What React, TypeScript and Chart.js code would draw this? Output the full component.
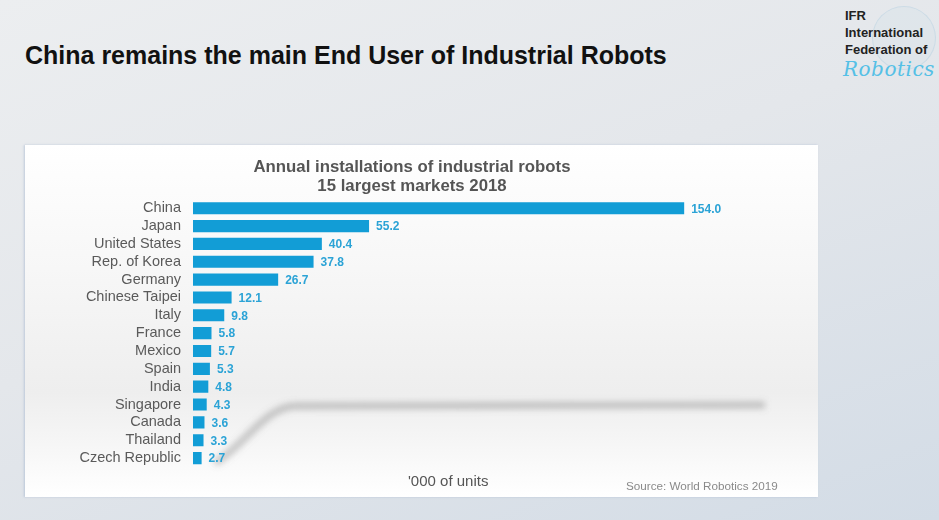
import React, { useEffect, useRef } from "react";
import { Chart, registerables } from "chart.js";

Chart.register(...registerables);

const countries = [
  "China",
  "Japan",
  "United States",
  "Rep. of Korea",
  "Germany",
  "Chinese Taipei",
  "Italy",
  "France",
  "Mexico",
  "Spain",
  "India",
  "Singapore",
  "Canada",
  "Thailand",
  "Czech Republic",
];
const installations = [154.0, 55.2, 40.4, 37.8, 26.7, 12.1, 9.8, 5.8, 5.7, 5.3, 4.8, 4.3, 3.6, 3.3, 2.7];
const chartTitleLines = ["Annual installations of industrial robots", "15 largest markets 2018"];
const slideTitle = "China remains the main End User of Industrial Robots";
const unitsNote = "'000 of units";
const sourceNote = "Source: World Robotics 2019";
const logoLines = ["IFR", "International", "Federation of"];
const logoScript = "Robotics";

const FONT = "'Liberation Sans', Arial, Helvetica, sans-serif";
const BAR_COLOR = "#129dd6";
const VALUE_COLOR = "#2ba3d6";

const valueLabels = {
  id: "valueLabels",
  afterDatasetsDraw(chart: any) {
    const ctx = chart.ctx;
    const meta = chart.getDatasetMeta(0);
    const data = chart.data.datasets[0].data as number[];
    ctx.save();
    ctx.font = `bold 12px ${FONT}`;
    ctx.fillStyle = VALUE_COLOR;
    ctx.textBaseline = "middle";
    ctx.textAlign = "left";
    meta.data.forEach((bar: any, i: number) => {
      ctx.fillText(Number(data[i]).toFixed(1), bar.x + 7, bar.y + 1);
    });
    ctx.restore();
  },
};

export default function App() {
  const canvasRef = useRef<HTMLCanvasElement | null>(null);

  useEffect(() => {
    if (!canvasRef.current) return;
    const chart = new Chart(canvasRef.current, {
      type: "bar",
      data: {
        labels: countries,
        datasets: [
          {
            data: installations,
            backgroundColor: BAR_COLOR,
            borderWidth: 0,
            barPercentage: 0.68,
            categoryPercentage: 1,
          },
        ],
      },
      options: {
        indexAxis: "y",
        responsive: false,
        animation: false,
        devicePixelRatio: 1,
        layout: { padding: { left: 0, right: 0, top: 0, bottom: 30 } },
        plugins: {
          legend: { display: false },
          tooltip: { enabled: false },
          title: {
            display: true,
            text: chartTitleLines,
            color: "#555555",
            font: { family: FONT, size: 16.8, weight: "bold", lineHeight: 1.14 },
            padding: { top: 13, bottom: 3 },
          },
        },
        scales: {
          x: {
            display: false,
            min: 0,
            max: 190,
          },
          y: {
            grid: { display: false, drawTicks: false },
            border: { display: false },
            ticks: {
              color: "#5a5a5a",
              font: { family: FONT, size: 14.5 },
              padding: 12,
              autoSkip: false,
            },
            afterFit: (scale: any) => {
              scale.width = 168;
            },
          },
        },
      },
      plugins: [valueLabels],
    } as any);
    return () => chart.destroy();
  }, []);

  return (
    <div
      style={{
        position: "absolute",
        left: 0,
        top: 0,
        width: 939,
        height: 520,
        overflow: "hidden",
        background: "linear-gradient(160deg, #eceef0 0%, #e4e7eb 45%, #d3dce6 100%)",
        fontFamily: FONT,
      }}
    >
      <div
        style={{
          position: "absolute",
          left: 25,
          top: 38,
          fontSize: 25,
          fontWeight: "bold",
          color: "#111",
          whiteSpace: "nowrap",
          lineHeight: "34px",
        }}
      >
        {slideTitle}
      </div>

      {/* logo */}
      <div
        style={{
          position: "absolute",
          left: 872,
          top: 6,
          width: 62,
          height: 62,
          borderRadius: "50%",
          border: "1px solid rgba(170,200,220,0.35)",
          background: "rgba(200,220,235,0.18)",
        }}
      />
      <div
        style={{
          position: "absolute",
          left: 845,
          top: 7,
          fontSize: 13,
          fontWeight: "bold",
          color: "#222",
          lineHeight: "17px",
          whiteSpace: "nowrap",
        }}
      >
        {logoLines.map((l) => (
          <div key={l}>{l}</div>
        ))}
      </div>
      <div
        style={{
          position: "absolute",
          left: 843,
          top: 57,
          fontSize: 20,
          fontStyle: "italic",
          fontFamily: "'DejaVu Serif', serif",
          color: "#55c0e6",
          whiteSpace: "nowrap",
          letterSpacing: 0.5,
        }}
      >
        {logoScript}
      </div>

      {/* chart panel */}
      <div
        style={{
          position: "absolute",
          left: 25,
          top: 145,
          width: 793,
          height: 352,
          background: "linear-gradient(180deg, #ffffff 0%, #f7f7f7 35%, #eeeeee 70%, #f6f6f6 85%, #ffffff 100%)",
          boxShadow: "-1px 0 2px rgba(150,170,200,0.5)",
        }}
      >
        <svg width={793} height={352} style={{ position: "absolute", left: 0, top: 0 }}>
          <defs>
            <filter id="blur" x="-10%" y="-50%" width="120%" height="200%">
              <feGaussianBlur stdDeviation="3" />
            </filter>
          </defs>
          <path
            d="M 190 318 C 220 300, 240 262, 270 261 L 740 260"
            stroke="rgba(120,120,120,0.4)"
            strokeWidth={7}
            fill="none"
            filter="url(#blur)"
          />
        </svg>
        <canvas
          ref={canvasRef}
          width={774}
          height={352}
          style={{ position: "absolute", left: 0, top: 0, width: 774, height: 352 }}
        />
        <div
          style={{
            position: "absolute",
            left: 383,
            top: 327,
            fontSize: 15,
            color: "#555",
            whiteSpace: "nowrap",
          }}
        >
          {unitsNote}
        </div>
        <div
          style={{
            position: "absolute",
            left: 601,
            top: 334,
            fontSize: 11.7,
            color: "#8a8a8a",
            whiteSpace: "nowrap",
          }}
        >
          {sourceNote}
        </div>
      </div>
    </div>
  );
}
